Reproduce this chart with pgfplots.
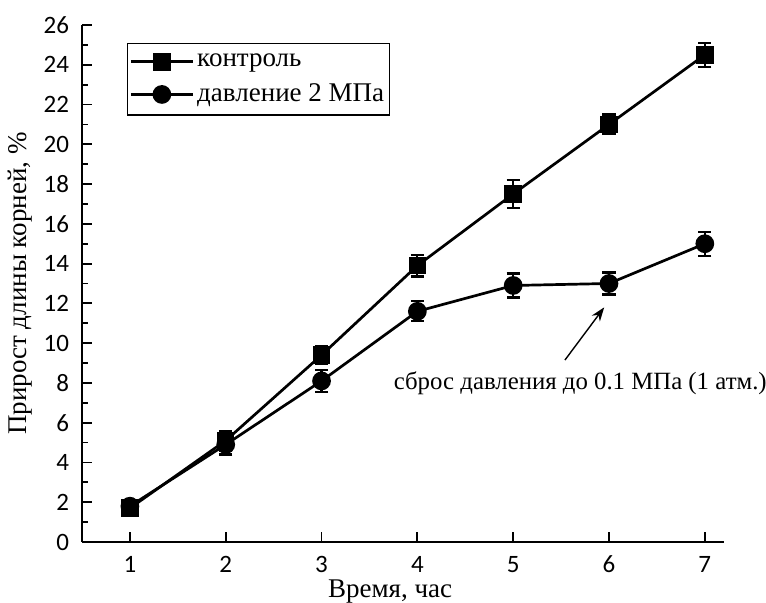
\documentclass[border=0pt]{standalone}
\usepackage{pgfplots}
\pgfplotsset{compat=1.18}
\usepackage{fontspec}
\setmainfont{Liberation Serif}
\newfontfamily\tickfont{Carlito}
\usetikzlibrary{arrows.meta}

\begin{document}
\begin{tikzpicture}
\useasboundingbox (-41pt,-30.5pt) rectangle (342pt,271pt);
\begin{axis}[
  scale only axis,
  width=321pt, height=258.5pt,
  xmin=0.5, xmax=7.2,
  ymin=0, ymax=26,
  axis lines*=left,
  axis line style={line width=1pt},
  clip=false,
  xtick={1,...,7},
  ytick={0,2,...,26},
  minor y tick num=1,
  tick align=inside,
  major tick length=5pt,
  minor tick length=3pt,
  every tick/.style={black, line width=0.9pt},
  /pgf/number format/assume math mode=true,
  tick label style={font=\tickfont\fontsize{12.5}{14}\selectfont},
  xticklabel style={yshift=-3.5pt},
  yticklabel style={xshift=-3pt},
  xlabel={Время, час},
  ylabel={Прирост длины корней, \%},
  label style={font=\fontsize{13.5}{15}\selectfont},
  xlabel style={at={(axis description cs:0.48,-0.095)}, anchor=center},
  ylabel style={at={(axis description cs:-0.097,0.5)}, anchor=center},
  legend style={at={(rel axis cs:0.07,0.965)}, anchor=north west,
    draw=black, line width=0.6pt, inner xsep=1pt, inner ysep=1.5pt,
    font=\fontsize{13.5}{15}\selectfont,
    nodes={inner xsep=1.5pt, inner ysep=3.6pt}},
  legend cell align=left,
  legend image code/.code={
    \draw[#1, mark repeat=2, mark phase=2]
      plot coordinates {(0pt,0pt) (15.5pt,0pt) (31pt,0pt)};},
  error bars/error bar style={line width=1.1pt},
  error bars/error mark options={rotate=90, mark size=3.3pt, line width=1.1pt},
]
% control
\addplot[black, line width=1.35pt, mark=square*, mark size=3.7pt,
  error bars/.cd, y dir=both, y explicit]
  coordinates {
    (1,1.7)  +- (0,0.2)
    (2,5.1)  +- (0,0.5)
    (3,9.4)  +- (0,0.45)
    (4,13.9) +- (0,0.55)
    (5,17.5) +- (0,0.7)
    (6,21.0) +- (0,0.5)
    (7,24.5) +- (0,0.6)
  };
\addlegendentry{контроль}
% pressure 2 MPa
\addplot[black, line width=1.35pt, mark=*, mark size=4pt,
  error bars/.cd, y dir=both, y explicit]
  coordinates {
    (1,1.8)  +- (0,0.2)
    (2,4.9)  +- (0,0.5)
    (3,8.1)  +- (0,0.55)
    (4,11.6) +- (0,0.5)
    (5,12.9) +- (0,0.6)
    (6,13.0) +- (0,0.55)
    (7,15.0) +- (0,0.6)
  };
\addlegendentry{давление 2 МПа}

\draw[-{Stealth[length=7pt,width=5pt]}, line width=0.7pt]
  (axis cs:5.54,9.15) -- (axis cs:5.95,11.8);
\node[font=\fontsize{12.4}{14}\selectfont, anchor=center]
  at (axis cs:5.70,8.0) {сброс давления до 0.1 МПа (1 атм.)};
\end{axis}
\end{tikzpicture}
\end{document}
